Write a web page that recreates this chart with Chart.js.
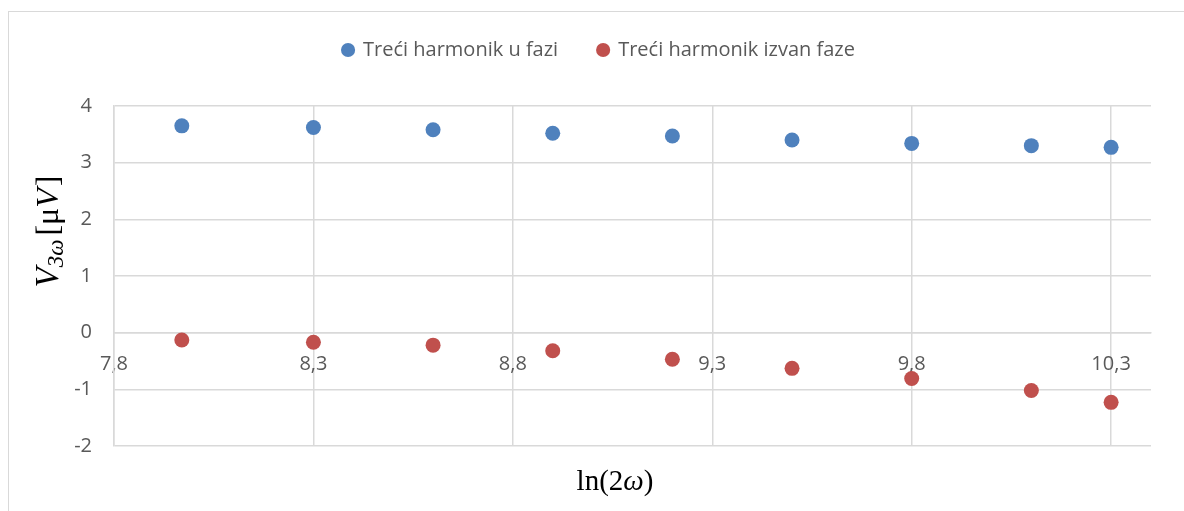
<!DOCTYPE html>
<html>
<head>
<meta charset="utf-8">
<script src="https://cdn.jsdelivr.net/npm/chart.js@4"></script>
<style>
  html, body { margin: 0; padding: 0; background: #fff; }
  canvas { display: block; }
</style>
</head>
<body>
<canvas id="chart" width="1184" height="511"></canvas>
<script>
// ln(2ω) i izmjereni treći harmonik (μV)
const lnOmega = [7.97, 8.30, 8.60, 8.90, 9.20, 9.50, 9.80, 10.10, 10.30];
const inPhase = [3.65, 3.62, 3.58, 3.52, 3.47, 3.40, 3.34, 3.30, 3.27];
const outOfPhase = [-0.13, -0.17, -0.22, -0.32, -0.47, -0.63, -0.81, -1.02, -1.23];
const xTicks = [7.8, 8.3, 8.8, 9.3, 9.8, 10.3];
const yTicks = [-2, -1, 0, 1, 2, 3, 4];
const seriesNames = ['Treći harmonik u fazi', 'Treći harmonik izvan faze'];

const gridColor = '#d9d9d9';
const textColor = '#595959';
const labelFont = { family: 'Open Sans', size: 20 };

const toPoints = ys => lnOmega.map((x, i) => ({ x: x, y: ys[i] }));

// okvir grafa i naslovi osi (matematički zapis)
const axisTitles = {
    id: 'axisTitles',
    beforeDraw(chart) {
        const ctx = chart.ctx;
        ctx.save();
        ctx.strokeStyle = gridColor;
        ctx.lineWidth = 1;
        ctx.strokeRect(8.5, 11.5, 1200, 600);
        ctx.restore();
    },
    afterDraw(chart) {
        const ctx = chart.ctx;
        ctx.save();
        ctx.fillStyle = '#000';
        ctx.textBaseline = 'alphabetic';

        // x: ln(2ω)
        const xParts = [
            { t: 'ln(2', f: '29px "Liberation Serif"', dy: 0 },
            { t: 'ω', f: 'italic 29px "Liberation Serif"', dy: 0 },
            { t: ')', f: '29px "Liberation Serif"', dy: 0 }
        ];
        drawParts(ctx, xParts, 615, 490);

        // y: V3ω [μV], okomito
        const yParts = [
            { t: 'V', f: 'italic 33px "Liberation Serif"', dy: 0 },
            { t: '3ω', f: 'italic 23px "Liberation Serif"', dy: 5 },
            { t: '[', f: '32px "Liberation Serif"', dy: 0, gap: 4 },
            { t: 'μ', f: '32px "Liberation Serif"', dy: 0 },
            { t: 'V', f: 'italic 32px "Liberation Serif"', dy: 0 },
            { t: ']', f: '32px "Liberation Serif"', dy: 0, gap: 2 }
        ];
        ctx.translate(58, 231.5);
        ctx.rotate(-Math.PI / 2);
        drawParts(ctx, yParts, 0, 0);
        ctx.restore();
    }
};

function drawParts(ctx, parts, cx, baseY) {
    let total = 0;
    parts.forEach(p => {
        ctx.font = p.f;
        p.w = ctx.measureText(p.t).width;
        total += p.w + (p.gap || 0);
    });
    let x = cx - total / 2;
    parts.forEach(p => {
        ctx.font = p.f;
        x += p.gap || 0;
        ctx.fillText(p.t, x, baseY + p.dy);
        x += p.w;
    });
}

new Chart(document.getElementById('chart'), {
    type: 'scatter',
    data: {
        datasets: [
            {
                label: seriesNames[0],
                data: toPoints(inPhase),
                backgroundColor: '#4f81bd',
                borderWidth: 0,
                pointRadius: 7.5
            },
            {
                label: seriesNames[1],
                data: toPoints(outOfPhase),
                backgroundColor: '#c0504d',
                borderWidth: 0,
                pointRadius: 7.5
            }
        ]
    },
    options: {
        responsive: false,
        devicePixelRatio: 1,
        animation: false,
        layout: { padding: { left: 47, right: 33, top: 0, bottom: 65 } },
        plugins: {
            legend: {
                position: 'top',
                labels: {
                    usePointStyle: true,
                    pointStyle: 'circle',
                    boxWidth: 10,
                    boxHeight: 10,
                    padding: 40,
                    color: textColor,
                    font: labelFont
                }
            },
            // razmak između legende i područja grafa
            subtitle: {
                display: true,
                text: '',
                weight: 500,
                font: { size: 10 },
                padding: { top: 0, bottom: 24 }
            },
            tooltip: { enabled: false }
        },
        scales: {
            x: {
                type: 'linear',
                position: { y: 0 },
                min: 7.8,
                max: 10.4,
                afterBuildTicks: s => { s.ticks = xTicks.map(v => ({ value: v })); },
                afterFit: s => { s.height = 0; },
                grid: { color: gridColor, lineWidth: 1.5, drawTicks: false },
                border: { color: gridColor, width: 1.5 },
                ticks: {
                    padding: 20,
                    color: textColor,
                    font: labelFont,
                    autoSkip: false,
                    maxRotation: 0,
                    callback: v => v.toFixed(1).replace('.', ',')
                }
            },
            y: {
                min: -2,
                max: 4,
                afterBuildTicks: s => { s.ticks = yTicks.map(v => ({ value: v })); },
                afterFit: s => { s.width = 67; },
                grid: { color: gridColor, lineWidth: 1.5, drawTicks: false },
                border: { color: gridColor, width: 1.5 },
                ticks: {
                    padding: 22,
                    color: textColor,
                    font: labelFont
                }
            }
        }
    },
    plugins: [axisTitles]
});
</script>
</body>
</html>
